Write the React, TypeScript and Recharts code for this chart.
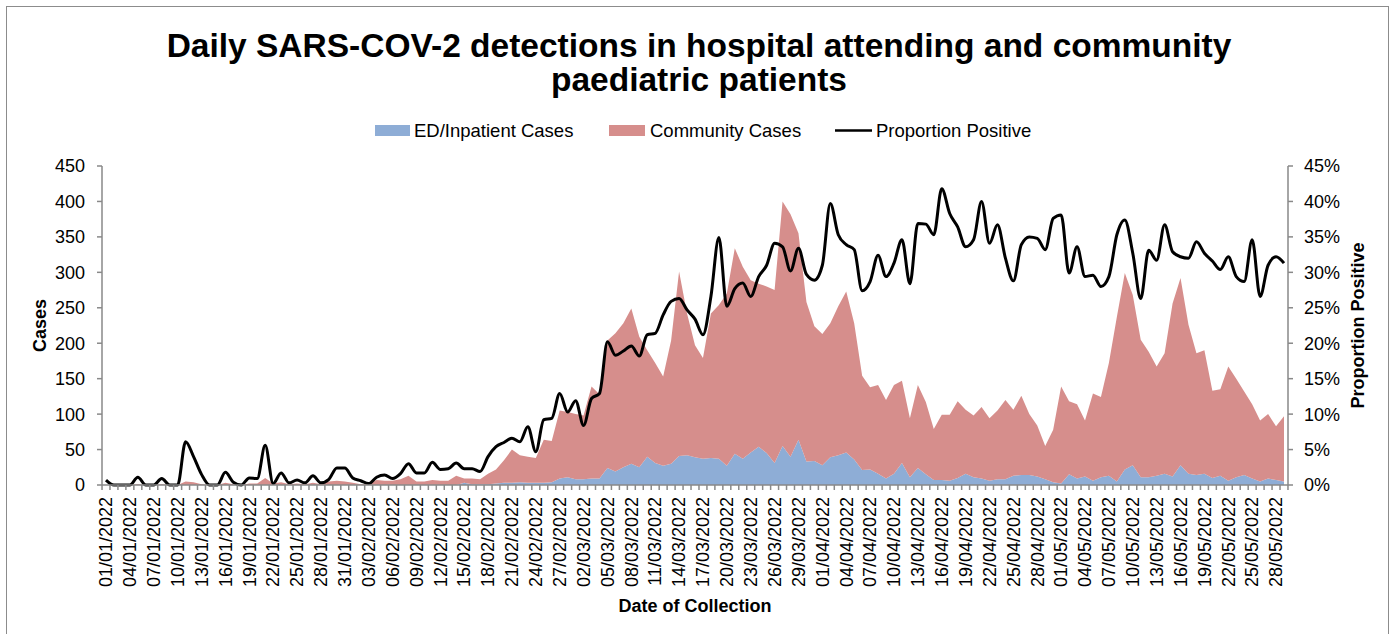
import { Area, ComposedChart, Line, XAxis, YAxis } from "recharts";

const FONT = "'Liberation Sans', Arial, Helvetica, sans-serif";
const AXIS_GREY = "#898989";
const BLUE = "#8EADD6";
const RED = "#D68E8C";

// one category per day, 01/01/2022 .. 29/05/2022
const DAY_COUNT = 149;
const dates: string[] = Array.from({ length: DAY_COUNT }, (_, i) => {
  const d = new Date(Date.UTC(2022, 0, 1 + i));
  const dd = String(d.getUTCDate()).padStart(2, "0");
  const mm = String(d.getUTCMonth() + 1).padStart(2, "0");
  return `${dd}/${mm}/${d.getUTCFullYear()}`;
});

const edCases = [
  0, 0, 0, 0, 0, 0, 0, 0, 0, 0,
  0, 0, 0, 0, 0, 0, 0, 0, 0, 0,
  0, 0, 0, 0, 0, 0, 0, 0, 0, 0,
  0, 0, 0, 0, 0, 0, 0, 0, 0, 0,
  0, 0, 0, 0, 0, 3, 1, 1, 1, 2,
  3, 3, 4, 3, 3, 3, 4, 9, 11, 8,
  8, 9, 9, 24, 19, 25, 30, 25, 40, 31,
  27, 30, 41, 42, 39, 37, 38, 37, 27, 44,
  37, 46, 54, 45, 31, 55, 40, 64, 33, 34,
  28, 39, 42, 46, 36, 21, 22, 16, 9, 16,
  31, 11, 24, 15, 7, 7, 6, 10, 16, 11,
  9, 6, 8, 8, 13, 14, 14, 12, 8, 4,
  2, 15, 9, 12, 6, 11, 13, 5, 22, 28,
  11, 11, 13, 16, 12, 28, 16, 14, 16, 10,
  13, 6, 11, 14, 9, 5, 9, 7, 5,
];

const communityCases = [
  0, 0, 0, 0, 1, 0, 0, 1, 0, 0,
  5, 4, 1, 0, 0, 3, 1, 0, 2, 2,
  10, 2, 4, 1, 2, 1, 3, 1, 5, 6,
  5, 3, 1, 1, 7, 6, 6, 8, 13, 5,
  5, 7, 6, 6, 13, 6, 8, 7, 15, 20,
  32, 47, 38, 37, 35, 61, 58, 96, 92, 92,
  90, 130, 119, 180, 195, 203, 219, 184, 150, 141,
  126, 174, 260, 200, 158, 142, 204, 217, 243, 290,
  271, 243, 230, 235, 244, 345, 342, 291, 225, 190,
  185, 189, 210, 227, 192, 133, 116, 125, 111, 125,
  116, 83, 117, 102, 72, 92, 93, 108, 90, 87,
  101, 88, 97, 112, 93, 112, 86, 72, 47, 74,
  137, 103, 105, 79, 123, 113, 159, 232, 277, 240,
  194, 177, 154, 170, 244, 264, 210, 172, 174, 123,
  122, 161, 139, 118, 105, 86, 91, 76, 92,
];

// percent positive
const proportionPositive = [
  0.7, 0, 0, 0, 1.1, 0, 0, 0.9, 0, 0,
  6.1, 4.0, 1.5, 0, 0, 1.8, 0.4, 0, 1.0, 0.9,
  5.6, 0.2, 1.7, 0.3, 0.7, 0.3, 1.3, 0.3, 0.8, 2.4,
  2.4, 1.0, 0.6, 0.2, 1.1, 1.4, 0.9, 1.6, 3.0, 1.7,
  1.7, 3.2, 2.2, 2.3, 3.1, 2.3, 2.3, 1.9, 4.0, 5.4,
  6.0, 6.6, 6.1, 8.2, 4.7, 9.2, 9.4, 12.9, 10.3, 11.9,
  8.4, 12.2, 12.9, 20.2, 18.3, 18.9, 19.6, 18.2, 21.2, 21.4,
  24.0, 25.9, 26.3, 24.7, 23.4, 21.2, 26.6, 34.9, 25.2, 27.7,
  28.5, 26.6, 29.4, 31.0, 34.1, 33.6, 30.2, 33.4, 29.7, 28.9,
  31.0, 39.7, 35.3, 33.9, 33.2, 27.4, 28.7, 32.4, 29.4, 31.3,
  34.6, 28.4, 36.9, 36.8, 35.3, 41.8, 38.3, 36.4, 33.6, 34.6,
  40.0, 34.1, 36.7, 32.0, 28.8, 33.9, 35.0, 34.8, 33.2, 37.6,
  38.1, 29.9, 33.6, 29.4, 29.6, 28.0, 29.4, 35.3, 37.4, 32.7,
  26.3, 33.1, 31.7, 36.7, 32.9, 32.2, 32.0, 34.3, 32.7, 31.6,
  30.4, 32.2, 29.4, 28.7, 34.6, 26.6, 31.0, 32.2, 31.3,
];

const casesTicks = [0, 50, 100, 150, 200, 250, 300, 350, 400, 450];
const pctTicks = [0, 5, 10, 15, 20, 25, 30, 35, 40, 45];

const data = dates.map((date, i) => ({
  date,
  ed: edCases[i],
  community: communityCases[i],
  proportion: proportionPositive[i],
}));

const STEP = 7.96; // px per day on the category axis

function DateTick(props: any) {
  const { x, y, payload } = props;
  const i = props.index ?? payload.index;
  const axisY = y - 12;
  return (
    <g>
      <line x1={x - STEP / 2} x2={x - STEP / 2} y1={axisY} y2={axisY + 5} stroke={AXIS_GREY} strokeWidth={1.5} />
      {i === DAY_COUNT - 1 && (
        <line x1={x + STEP / 2} x2={x + STEP / 2} y1={axisY} y2={axisY + 5} stroke={AXIS_GREY} strokeWidth={1.5} />
      )}
      {i % 3 === 0 && (
        <text
          x={x}
          y={y}
          transform={`rotate(-90, ${x}, ${y})`}
          textAnchor="end"
          dy="0.35em"
          fontSize={18}
          fontFamily={FONT}
          fill="#000"
        >
          {payload.value}
        </text>
      )}
    </g>
  );
}

export default function App() {
  return (
    <div style={{ position: "absolute", left: 0, top: 0, width: 1397, height: 634, background: "#fff", overflow: "hidden" }}>
      <div
        style={{
          position: "absolute",
          left: 6,
          top: 6,
          width: 1383,
          height: 660,
          border: "1px solid #8c8c8c",
          boxSizing: "border-box",
        }}
      />
      <ComposedChart
        width={1397}
        height={634}
        data={data}
        margin={{ top: 166, right: 0, bottom: 0, left: 0 }}
        style={{ position: "absolute", left: 0, top: 0 }}
      >
        <XAxis
          dataKey="date"
          interval={0}
          height={149}
          padding={{ left: 4, right: 4 }}
          axisLine={{ stroke: AXIS_GREY, strokeWidth: 1.5 }}
          tickLine={false}
          tickSize={5}
          tickMargin={7}
          tick={<DateTick />}
          label={{
            content: ({ viewBox }: any) => (
              <text
                x={viewBox.x + viewBox.width / 2}
                y={606}
                dy="0.35em"
                textAnchor="middle"
                fontSize={18}
                fontWeight="bold"
                fontFamily={FONT}
                fill="#000"
              >
                Date of Collection
              </text>
            ),
          }}
        />
        <YAxis
          yAxisId="cases"
          width={102}
          domain={[0, 450]}
          ticks={casesTicks}
          interval={0}
          axisLine={{ stroke: AXIS_GREY, strokeWidth: 1.5 }}
          tickLine={{ stroke: AXIS_GREY, strokeWidth: 1.5 }}
          tickSize={5}
          tickMargin={12}
          tick={{ fontSize: 18, fill: "#000", fontFamily: FONT }}
          label={{
            content: ({ viewBox }: any) => {
              const cy = viewBox.y + viewBox.height / 2;
              return (
                <text
                  x={40}
                  y={cy}
                  transform={`rotate(-90, 40, ${cy})`}
                  dy="0.35em"
                  textAnchor="middle"
                  fontSize={18}
                  fontWeight="bold"
                  fontFamily={FONT}
                  fill="#000"
                >
                  Cases
                </text>
              );
            },
          }}
        />
        <YAxis
          yAxisId="pct"
          orientation="right"
          width={109}
          domain={[0, 45]}
          ticks={pctTicks}
          interval={0}
          tickFormatter={(v: number) => `${v}%`}
          axisLine={{ stroke: AXIS_GREY, strokeWidth: 1.5 }}
          tickLine={{ stroke: AXIS_GREY, strokeWidth: 1.5 }}
          tickSize={5}
          tickMargin={11}
          tick={{ fontSize: 18, fill: "#000", fontFamily: FONT }}
          label={{
            content: ({ viewBox }: any) => {
              const cy = viewBox.y + viewBox.height / 2;
              return (
                <text
                  x={1358}
                  y={cy}
                  transform={`rotate(-90, 1358, ${cy})`}
                  dy="0.35em"
                  textAnchor="middle"
                  fontSize={18}
                  fontWeight="bold"
                  fontFamily={FONT}
                  fill="#000"
                >
                  Proportion Positive
                </text>
              );
            },
          }}
        />
        <Area
          yAxisId="cases"
          type="linear"
          dataKey="ed"
          stackId="cases"
          name="ED/Inpatient Cases"
          fill={BLUE}
          fillOpacity={1}
          stroke="none"
          isAnimationActive={false}
        />
        <Area
          yAxisId="cases"
          type="linear"
          dataKey="community"
          stackId="cases"
          name="Community Cases"
          fill={RED}
          fillOpacity={1}
          stroke="none"
          isAnimationActive={false}
        />
        <Line
          yAxisId="pct"
          type="monotone"
          dataKey="proportion"
          name="Proportion Positive"
          stroke="#000"
          strokeWidth={3}
          dot={false}
          activeDot={false}
          isAnimationActive={false}
        />
      </ComposedChart>
      <svg
        width={1397}
        height={160}
        style={{ position: "absolute", left: 0, top: 0, pointerEvents: "none" }}
        fontFamily={FONT}
      >
        <text x={699} y={57} textAnchor="middle" fontSize={33.5} fontWeight="bold" fill="#000">
          Daily SARS-COV-2 detections in hospital attending and community
        </text>
        <text x={699} y={91} textAnchor="middle" fontSize={33.5} fontWeight="bold" fill="#000">
          paediatric patients
        </text>
        <rect x={375} y={125} width={35} height={11} fill={BLUE} />
        <text x={414} y={136.5} fontSize={18.5} fill="#000">ED/Inpatient Cases</text>
        <rect x={609} y={125} width={36} height={11} fill={RED} />
        <text x={650} y={136.5} fontSize={18.5} fill="#000">Community Cases</text>
        <line x1={835} x2={872} y1={130.5} y2={130.5} stroke="#000" strokeWidth={2.5} />
        <text x={876} y={136.5} fontSize={18.5} fill="#000">Proportion Positive</text>
      </svg>
    </div>
  );
}
